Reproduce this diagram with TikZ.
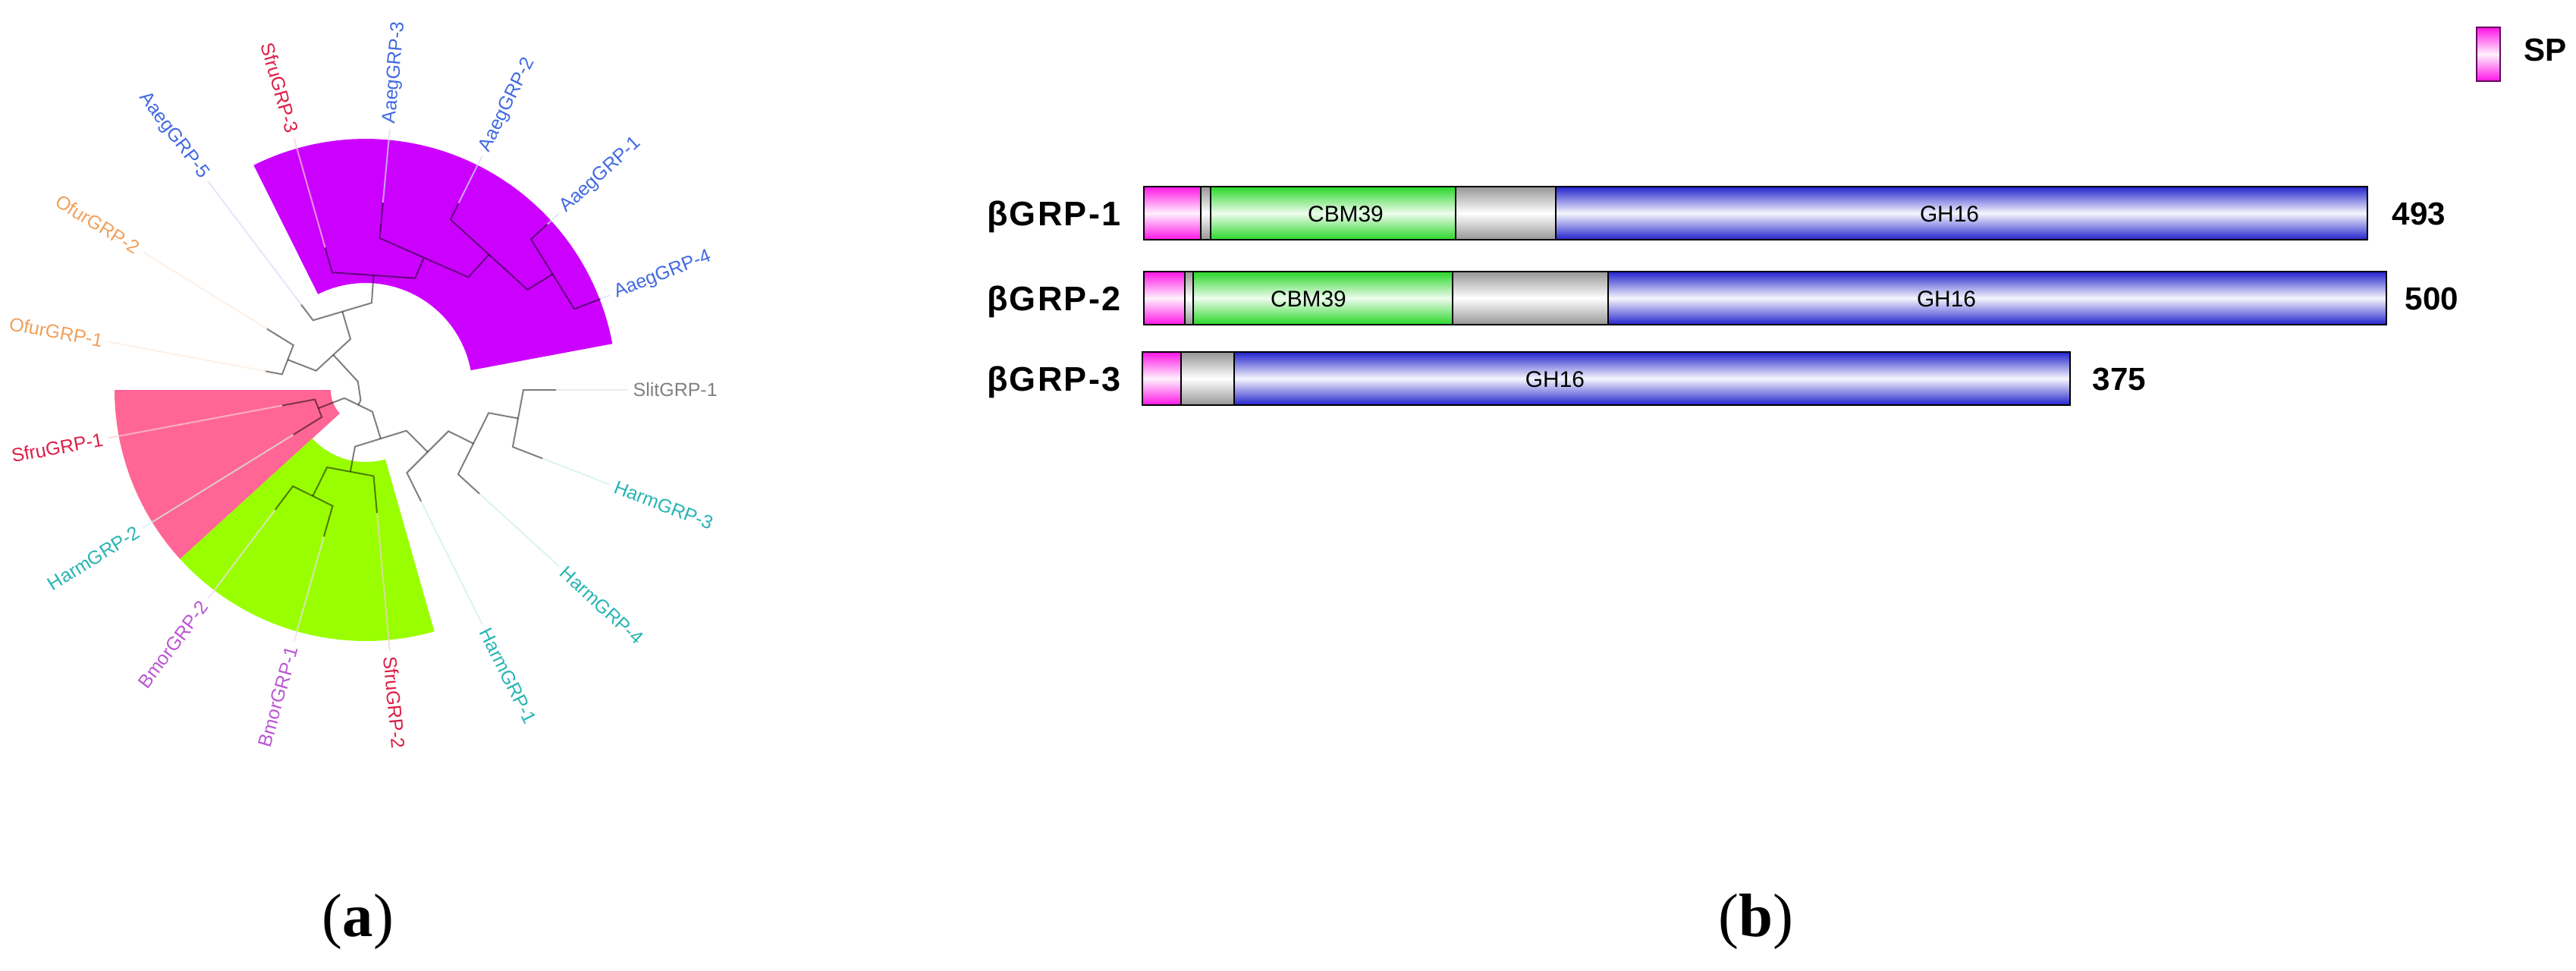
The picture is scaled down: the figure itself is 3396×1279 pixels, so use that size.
\documentclass[tikz,border=0pt]{standalone}
\usepackage{fontspec}
\setmainfont{Liberation Sans}
\newfontfamily\capfont{Liberation Serif}
\newfontfamily\protfont[LetterSpace=5]{Liberation Sans}
\definecolor{cAaeg}{RGB}{65,105,225}
\definecolor{cSfru}{RGB}{220,30,70}
\definecolor{cOfur}{RGB}{240,160,90}
\definecolor{cSlit}{RGB}{128,128,128}
\definecolor{cHarm}{RGB}{40,180,180}
\definecolor{cBmor}{RGB}{186,85,211}
\definecolor{wPurp}{RGB}{204,0,255}
\definecolor{wPink}{RGB}{255,102,150}
\definecolor{wGreen}{RGB}{153,255,0}
\definecolor{spc}{RGB}{255,20,230}
\definecolor{cbmc}{RGB}{40,215,40}
\definecolor{grc}{RGB}{150,150,150}
\definecolor{ghc}{RGB}{35,35,205}
\begin{document}
\begin{tikzpicture}[x=0.1mm,y=0.1mm,
  br/.style={line width=0.2mm,draw=black,draw opacity=0.5},
  faint/.style={line width=0.2mm,draw opacity=0.7},
  leaflab/.style={font=\fontsize{7.1pt}{8pt}\selectfont,inner sep=0pt},
  seg/.style={draw=black,line width=0.25mm},
  spseg/.style={seg,top color=spc,bottom color=spc,middle color=spc!6!white},
  cbmseg/.style={seg,top color=cbmc,bottom color=cbmc,middle color=cbmc!8!white},
  grseg/.style={seg,top color=grc,bottom color=grc,middle color=white},
  ghseg/.style={seg,top color=ghc,bottom color=ghc,middle color=ghc!4!white},
  protlab/.style={font=\protfont\fontsize{12.8pt}{14pt}\selectfont\bfseries,inner sep=0pt,anchor=base east},
  numlab/.style={font=\fontsize{12pt}{14pt}\selectfont\bfseries,inner sep=0pt,anchor=base west},
  domlab/.style={font=\fontsize{8.5pt}{10pt}\selectfont,inner sep=0pt,anchor=base},
  panlab/.style={font=\fontsize{23pt}{26pt}\selectfont\capfont,inner sep=0pt}]
\useasboundingbox (0,0) rectangle (3396,1279);

% ---------------- panel (a): circular tree ----------------
\begin{scope}[shift={(482,765)}]
  % clade wedges
  \fill[wPurp] plot[domain=10.588:116.47,samples=60] (\x:331) -- plot[domain=116.47:10.588,samples=60] (\x:141) -- cycle;
  \fill[wPink] plot[domain=180:222.353,samples=40] (\x:331) -- plot[domain=222.353:180,samples=40] (\x:46) -- cycle;
  \fill[wGreen] plot[domain=222.353:285.882,samples=50] (\x:331) -- plot[domain=285.882:222.353,samples=50] (\x:95) -- cycle;

  % faint leaf extensions and labels (right half)
  \foreach \a/\t/\c/\e [count=\i] in {0/SlitGRP-1/cSlit/251, -21.176/HarmGRP-3/cHarm/250, -42.353/HarmGRP-4/cHarm/203, -63.529/HarmGRP-1/cHarm/164, -84.706/SfruGRP-2/cSfru/163, 84.706/AaegGRP-3/cAaeg/248, 63.529/AaegGRP-2/cAaeg/275, 42.353/AaegGRP-1/cAaeg/324, 21.176/AaegGRP-4/cAaeg/332}{
    \draw[faint,draw=\c!22!white] (\a:\e) -- (\a:345);
    \node[leaflab,text=\c,anchor=west,rotate=\a] (R\i) at (\a:352) {\t};
  }
  % left half
  \foreach \a/\t/\c/\e [count=\i] in {-105.882/BmorGRP-1/cBmor/201, -127.059/BmorGRP-2/cBmor/198, -148.235/HarmGRP-2/cHarm/112, -169.412/SfruGRP-1/cSfru/112, 169.412/OfurGRP-1/cOfur/134, 148.235/OfurGRP-2/cOfur/153, 127.059/AaegGRP-5/cAaeg/141, 105.882/SfruGRP-3/cSfru/195}{
    \draw[faint,draw=\c!22!white] (\a:\e) -- (\a:345);
    \node[leaflab,text=\c,anchor=east,rotate=\a+180] (L\i) at (\a:352) {\t};
  }

  % tree branches (child -- node chord -- child)
  \draw[br] (0:251) -- (0:208) -- (-21.176:208) -- (-21.176:250);
  \draw[br] (-10.588:204.5) -- (-10.588:165) -- (-42.353:165) -- (-42.353:203);
  \draw[br] (-26.47:158.7) -- (-26.47:122) -- (-63.529:122) -- (-63.529:164);
  \draw[br] (-105.882:201) -- (-105.882:159) -- (-127.059:159) -- (-127.059:198);
  \draw[br] (-84.706:163) -- (-84.706:114) -- (-116.47:114) -- (-116.47:156.3);
  \draw[br] (-100.59:109.6) -- (-100.59:76) -- (-45:76) -- (-45:115.7);
  \draw[br] (-169.412:112) -- (-169.412:68) -- (-148.235:68) -- (-148.235:112);
  \draw[br] (-158.82:66.8) -- (-158.82:30) -- (-72.79:30) -- (-72.79:67.2);
  \draw[br] (169.412:134) -- (169.412:112) -- (148.235:112) -- (148.235:153);
  \draw[br] (42.353:324) -- (42.353:295) -- (21.176:295) -- (21.176:332);
  \draw[br] (63.529:275) -- (63.529:251) -- (31.76:251) -- (31.76:290);
  \draw[br] (84.706:248) -- (84.706:201) -- (47.65:201) -- (47.65:241.4);
  \draw[br] (105.882:195) -- (105.882:161) -- (66.18:161) -- (66.18:190.6);
  \draw[br] (127.059:141) -- (127.059:115) -- (86.03:115) -- (86.03:151.4);
  \draw[br] (106.54:107.7) -- (106.54:70) -- (158.82:70) -- (158.82:110.1);
  \draw[br] (132.68:62.8) -- (132.68:15) -- (244.19:15) -- (244.19:21.9);
\end{scope}

% ---------------- panel (b): domain architecture ----------------
% legend
\path[seg,line width=0.2mm,draw=black!60!spc,top color=spc,bottom color=spc,middle color=spc!6!white] (3265,1172) rectangle (3296,1243);
\node[numlab] (sp) at (3327,1199) {SP};

% bar 1
\path[spseg] (1508,963) rectangle (1583,1033);
\path[grseg] (1583,963) rectangle (1596,1033);
\path[cbmseg] (1596,963) rectangle (1919,1033);
\path[grseg] (1919,963) rectangle (2051,1033);
\path[ghseg] (2051,963) rectangle (3121,1033);
\node[protlab] (p1) at (1478,982) {βGRP-1};
\node[domlab] (c1) at (1774,987) {CBM39};
\node[domlab] (g1) at (2570,987) {GH16};
\node[numlab] (n1) at (3153,983) {493};

% bar 2
\path[spseg] (1508,851) rectangle (1562,921);
\path[grseg] (1562,851) rectangle (1573,921);
\path[cbmseg] (1573,851) rectangle (1915,921);
\path[grseg] (1915,851) rectangle (2120,921);
\path[ghseg] (2120,851) rectangle (3146,921);
\node[protlab] (p2) at (1478,870) {βGRP-2};
\node[domlab] (c2) at (1725,875) {CBM39};
\node[domlab] (g2) at (2566,875) {GH16};
\node[numlab] (n2) at (3170,871) {500};

% bar 3
\path[spseg] (1506,745) rectangle (1557,815);
\path[grseg] (1557,745) rectangle (1627,815);
\path[ghseg] (1627,745) rectangle (2729,815);
\node[protlab] (p3) at (1478,764) {βGRP-3};
\node[domlab] (g3) at (2050,769) {GH16};
\node[numlab] (n3) at (2758,765) {375};

% panel labels
\node[panlab] (pa) at (472,64) {(\textbf{a})};
\node[panlab] (pb) at (2315,64) {(\textbf{b})};
\end{tikzpicture}
\end{document}
